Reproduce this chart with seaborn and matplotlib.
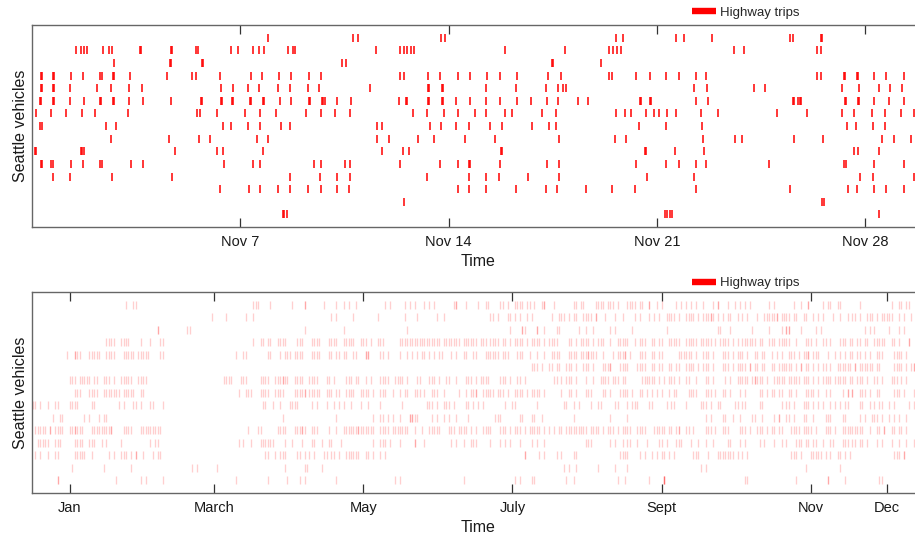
import matplotlib
matplotlib.use("Agg")
import matplotlib.pyplot as plt
from matplotlib.lines import Line2D
import pandas as pd
import seaborn as sns

# ---------------------------------------------------------------------------
# November: highway trip start times per vehicle, as fractional day of month
# (7.30 = Nov 7, about 07:12). One list per vehicle, top row first.
# ---------------------------------------------------------------------------
nov_trips = [
    [7.93, 10.80, 10.96, 13.75, 13.89, 19.63, 19.84, 21.63, 21.91, 22.84, 25.47, 25.58, 26.49, 26.53],
    [1.48, 1.64, 1.74, 1.85, 2.39, 2.60, 2.68, 3.63, 3.67, 4.68, 4.72, 5.51, 5.59, 6.69, 6.93, 7.43,
     7.61, 7.81, 8.60, 8.77, 8.85, 11.56, 12.37, 12.51, 12.60, 12.72, 12.84, 15.88, 17.91, 19.38,
     19.52, 19.66, 19.80, 23.59, 23.91, 26.37, 26.49],
    [2.76, 4.63, 4.67, 5.71, 5.75, 10.42, 10.55, 17.47, 17.51, 19.12],
    [0.31, 0.35, 0.71, 0.75, 1.30, 1.72, 2.30, 2.34, 2.73, 2.77, 3.30, 4.52, 5.39, 5.51, 6.31, 7.35,
     7.72, 8.30, 8.71, 9.31, 9.72, 12.37, 12.51, 13.29, 13.72, 14.31, 14.71, 15.30, 15.72, 16.30,
     17.34, 17.76, 19.38, 19.50, 20.30, 20.77, 21.30, 21.72, 22.30, 22.64, 26.37, 26.50, 27.27,
     27.31, 27.70, 27.74, 28.29, 28.70, 29.29],
    [0.31, 0.35, 0.69, 0.73, 1.27, 2.19, 2.64, 3.26, 3.68, 6.35, 6.76, 7.26, 7.64, 8.25, 8.67, 9.26,
     9.64, 11.34, 13.29, 13.33, 13.76, 13.80, 15.25, 16.27, 17.27, 17.68, 17.84, 17.93, 22.25,
     22.67, 24.25, 24.63, 27.21, 27.78, 28.45, 28.83, 29.24],
    [0.27, 0.31, 0.69, 0.73, 1.27, 1.76, 2.27, 2.31, 2.73, 2.77, 3.26, 3.73, 4.68, 5.68, 5.72, 6.34,
     6.38, 6.72, 6.76, 7.31, 7.35, 7.76, 7.80, 8.33, 8.71, 9.31, 9.35, 9.73, 9.78, 9.83, 10.26,
     10.72, 12.34, 12.56, 12.60, 13.29, 13.33, 13.76, 13.80, 14.25, 14.71, 15.25, 15.72, 16.30,
     16.76, 17.30, 17.67, 18.34, 18.68, 20.41, 20.45, 20.75, 20.79, 22.30, 22.70, 25.57, 25.61,
     25.74, 25.81, 25.85, 27.32, 27.36, 27.75, 27.79, 28.28, 28.78, 29.29],
    [0.14, 0.65, 1.15, 1.68, 2.13, 3.23, 5.55, 5.64, 6.23, 7.14, 7.67, 8.21, 9.22, 9.72, 10.18,
     10.68, 12.81, 13.26, 13.84, 14.30, 14.88, 15.25, 15.88, 16.13, 17.14, 17.59, 19.63, 19.92,
     20.13, 20.62, 20.88, 21.08, 21.34, 21.63, 22.47, 23.04, 25.03, 26.04, 27.21, 27.63, 28.21,
     28.66, 29.21, 29.63],
    [0.28, 0.32, 2.48, 2.82, 6.40, 6.69, 7.26, 7.67, 8.38, 8.67, 11.59, 11.76, 13.38, 13.75, 14.25,
     14.68, 15.40, 15.80, 16.80, 17.38, 17.59, 20.38, 21.30, 22.50, 27.37, 27.68, 28.25, 28.66],
    [2.64, 4.59, 5.60, 5.98, 7.56, 7.93, 11.59, 12.00, 12.97, 13.52, 14.55, 15.54, 17.71, 19.58,
     19.96, 22.54, 23.61, 23.85, 25.59, 26.57, 28.55, 28.95, 29.53],
    [0.10, 0.14, 1.64, 1.68, 1.75, 4.81, 6.22, 6.42, 7.76, 11.76, 12.46, 12.68, 15.76, 15.80, 20.60,
     20.64, 21.59, 22.59, 27.60, 27.74, 28.46],
    [0.31, 0.35, 0.65, 0.69, 1.30, 1.73, 2.30, 2.34, 3.31, 3.73, 6.46, 7.43, 7.67, 9.48, 9.72,
     10.52, 10.68, 12.37, 13.72, 14.30, 14.68, 14.72, 15.72, 17.30, 17.71, 20.30, 21.30, 21.72,
     22.30, 22.64, 24.75, 27.29, 27.33, 28.29, 29.29],
    [0.72, 1.27, 2.68, 4.72, 8.68, 9.68, 10.26, 10.68, 13.26, 14.68, 15.26, 15.68, 16.67, 17.71,
     20.67, 22.25, 27.83, 28.26, 29.63],
    [6.31, 7.30, 7.67, 8.27, 8.68, 9.26, 9.71, 10.26, 10.64, 14.30, 14.68, 15.26, 16.26, 17.27,
     17.63, 18.60, 19.50, 20.27, 22.30, 25.47, 27.42, 27.71, 28.29, 28.70, 29.29],
    [12.51, 26.54, 26.62],
    [8.44, 8.48, 8.57, 21.28, 21.32, 21.45, 21.49, 28.46],
]
nov_ticks = [7, 14, 21, 28]
nov_tick_labels = ["Nov 7", "Nov 14", "Nov 21", "Nov 28"]

# ---------------------------------------------------------------------------
# Whole year: day of year (0 = Jan 1) of each highway trip per vehicle.
# A day listed more than once had several trips.
# ---------------------------------------------------------------------------
year_trips = [
    [37, 40, 41, 89, 90, 91, 96, 105, 110, 110, 118, 123, 126, 128, 131, 143, 145, 151, 153, 155,
     159, 161, 163, 171, 172, 172, 176, 181, 184, 185, 190, 191, 193, 196, 197, 198, 199, 201, 202,
     204, 207, 208, 208, 212, 220, 221, 223, 224, 229, 230, 231, 232, 234, 235, 236, 238, 242, 243,
     244, 245, 247, 248, 251, 251, 254, 256, 262, 264, 266, 268, 270, 273, 277, 279, 279, 283, 286,
     288, 290, 292, 300, 302, 310, 313, 316, 316, 322, 324, 325, 328, 329, 337, 350, 353, 354, 356,
     357],
    [72, 78, 86, 89, 121, 123, 130, 140, 151, 156, 164, 167, 186, 187, 189, 193, 194, 196, 198, 201,
     203, 211, 214, 215, 216, 218, 220, 221, 224, 225, 226, 227, 229, 229, 233, 237, 240, 245, 247,
     251, 253, 255, 258, 259, 260, 261, 263, 266, 267, 268, 269, 271, 273, 274, 275, 276, 276, 277,
     279, 281, 283, 284, 287, 289, 291, 295, 298, 299, 300, 301, 302, 303, 303, 305, 306, 307, 308,
     310, 311, 314, 315, 318, 320, 322, 326, 329, 332, 334, 335, 337, 340, 341, 342, 344, 346, 347,
     348, 349, 350, 353, 355, 358],
    [50, 50, 62, 63, 110, 126, 152, 194, 199, 199, 200, 205, 205, 208, 213, 214, 222, 225, 228, 235,
     237, 244, 258, 279, 280, 284, 293, 300, 305, 307, 307, 308, 308, 313, 319, 321, 339, 341, 343,
     349, 353, 355],
    [29, 30, 31, 32, 35, 36, 37, 38, 43, 47, 51, 52, 89, 92, 93, 95, 96, 99, 100, 101, 102, 107, 108,
     109, 113, 114, 115, 116, 120, 121, 122, 123, 126, 127, 128, 129, 130, 133, 134, 135, 137, 140,
     141, 142, 149, 150, 151, 152, 153, 154, 155, 156, 157, 158, 159, 160, 161, 162, 163, 164, 165,
     167, 168, 169, 170, 171, 172, 173, 175, 176, 177, 178, 179, 180, 182, 183, 184, 186, 187, 188,
     189, 191, 192, 194, 196, 197, 198, 199, 201, 203, 204, 205, 206, 208, 210, 211, 212, 213, 218,
     219, 221, 223, 224, 225, 226, 228, 230, 231, 232, 235, 238, 239, 240, 241, 242, 245, 247, 248,
     249, 252, 253, 255, 256, 259, 260, 261, 262, 263, 266, 267, 268, 269, 270, 272, 273, 274, 275,
     276, 278, 280, 281, 282, 283, 285, 287, 289, 290, 291, 292, 293, 294, 296, 297, 300, 301, 302,
     304, 305, 306, 307, 308, 311, 315, 316, 317, 319, 322, 323, 325, 329, 330, 331, 333, 334, 336,
     337, 339, 340, 343, 344, 345, 346, 347, 350, 351, 353, 357, 357],
    [13, 16, 16, 17, 18, 22, 23, 24, 25, 26, 29, 30, 31, 32, 36, 37, 38, 39, 40, 42, 43, 44, 45, 46,
     51, 52, 82, 85, 86, 95, 96, 100, 102, 103, 104, 106, 107, 108, 109, 113, 114, 115, 116, 120,
     121, 123, 124, 126, 127, 130, 131, 135, 135, 136, 136, 141, 142, 144, 149, 152, 154, 156, 158,
     159, 161, 163, 165, 166, 170, 172, 175, 176, 179, 180, 184, 185, 186, 187, 188, 189, 191, 192,
     193, 197, 198, 199, 202, 205, 208, 211, 212, 213, 214, 218, 219, 220, 221, 223, 224, 225, 226,
     226, 227, 228, 229, 232, 236, 238, 239, 240, 241, 241, 243, 247, 248, 249, 252, 253, 255, 256,
     263, 264, 265, 266, 267, 268, 270, 273, 274, 275, 277, 281, 282, 283, 285, 287, 288, 289, 291,
     294, 295, 297, 298, 301, 303, 305, 308, 309, 310, 312, 314, 315, 316, 316, 318, 319, 320, 324,
     327, 329, 331, 333, 334, 336, 337, 339, 341, 344, 345, 346, 351, 352, 353, 354, 356],
    [203, 204, 205, 207, 210, 211, 213, 214, 217, 218, 219, 221, 224, 225, 226, 228, 232, 233, 234,
     235, 235, 239, 240, 241, 242, 246, 247, 248, 249, 252, 253, 255, 256, 259, 260, 262, 263, 266,
     267, 268, 269, 271, 273, 274, 275, 277, 281, 282, 283, 285, 287, 288, 289, 290, 292, 292, 294,
     295, 297, 298, 301, 302, 304, 305, 306, 307, 308, 309, 311, 313, 313, 315, 316, 318, 320, 322,
     323, 325, 328, 329, 330, 331, 332, 333, 335, 335, 337, 338, 339, 340, 341, 342, 344, 345, 351,
     352, 353, 354, 356, 358, 359, 359],
    [14, 15, 16, 18, 19, 20, 21, 22, 24, 25, 28, 29, 30, 32, 35, 36, 37, 38, 39, 42, 43, 44, 45, 77,
     78, 79, 80, 84, 85, 86, 92, 93, 94, 95, 98, 99, 100, 101, 101, 102, 103, 106, 107, 108, 109,
     112, 113, 114, 115, 119, 120, 122, 127, 128, 129, 131, 132, 135, 137, 141, 142, 143, 144, 147,
     148, 149, 150, 152, 156, 157, 161, 162, 163, 165, 168, 169, 172, 176, 177, 178, 180, 182, 183,
     184, 185, 190, 191, 192, 194, 197, 198, 200, 212, 213, 215, 217, 218, 219, 221, 225, 228, 231,
     232, 233, 234, 236, 237, 238, 240, 241, 248, 249, 250, 251, 252, 253, 255, 257, 259, 260, 261,
     263, 266, 267, 270, 274, 275, 277, 282, 284, 287, 288, 289, 290, 291, 293, 294, 294, 295, 296,
     297, 299, 302, 303, 304, 305, 306, 308, 309, 310, 311, 312, 314, 315, 316, 318, 320, 322, 323,
     324, 325, 327, 328, 329, 330, 331, 333, 334, 336, 337, 338, 340, 343, 344, 346, 350, 351, 352,
     354, 356],
    [16, 17, 18, 22, 23, 24, 25, 28, 29, 30, 31, 32, 33, 34, 36, 37, 38, 39, 40, 43, 44, 83, 86, 87,
     88, 92, 93, 94, 95, 98, 99, 100, 101, 106, 107, 108, 109, 110, 110, 112, 113, 114, 115, 116,
     119, 120, 121, 123, 124, 127, 128, 129, 130, 133, 134, 135, 136, 138, 141, 142, 143, 146, 149,
     151, 152, 155, 156, 157, 159, 162, 163, 164, 167, 173, 176, 178, 179, 180, 180, 183, 184, 185,
     186, 187, 189, 190, 191, 193, 196, 197, 198, 199, 201, 203, 204, 205, 206, 208, 215, 218, 219,
     221, 225, 226, 227, 232, 233, 235, 239, 240, 241, 242, 244, 247, 248, 250, 252, 254, 256, 259,
     261, 262, 267, 268, 269, 270, 274, 275, 276, 278, 281, 282, 284, 288, 290, 296, 297, 299, 301,
     302, 304, 305, 308, 309, 311, 315, 316, 317, 318, 320, 323, 325, 330, 332, 332, 334, 334, 337,
     338, 339, 341, 344, 345, 351, 352, 353, 355, 359],
    [-1, 0, 2, 5, 8, 9, 14, 15, 16, 17, 23, 24, 34, 36, 40, 41, 43, 47, 48, 52, 93, 94, 97, 100, 104,
     105, 106, 107, 113, 115, 119, 122, 124, 126, 129, 133, 136, 141, 150, 160, 161, 162, 164, 167,
     168, 169, 171, 176, 177, 179, 181, 183, 192, 195, 196, 205, 216, 217, 220, 222, 227, 230, 231,
     237, 238, 242, 244, 245, 246, 251, 252, 258, 260, 261, 266, 272, 273, 274, 276, 279, 280, 286,
     287, 289, 290, 296, 297, 305, 307, 308, 310, 314, 315, 316, 318, 320, 322, 325, 327, 329, 331,
     332, 337, 338, 341, 343, 345, 346, 349, 351, 357, 359],
    [7, 10, 11, 20, 22, 26, 28, 29, 101, 123, 138, 141, 142, 144, 146, 149, 153, 153, 154, 154, 155,
     156, 162, 164, 167, 169, 172, 177, 188, 189, 190, 198, 199, 203, 204, 207, 220, 235, 242, 274,
     276, 281, 282, 285, 288, 293, 294, 297, 302, 304, 304, 307, 308, 310, 314, 315, 318, 323, 324,
     325, 330, 331, 337, 339, 342, 343, 344, 346, 349, 351, 353, 356],
    [0, 1, 2, 3, 4, 6, 6, 8, 9, 10, 11, 14, 15, 16, 16, 17, 18, 19, 23, 24, 25, 26, 27, 28, 29, 30,
     31, 31, 36, 37, 38, 39, 43, 44, 45, 46, 47, 48, 49, 50, 51, 87, 91, 92, 99, 100, 101, 102, 106,
     107, 108, 109, 109, 110, 113, 114, 115, 120, 123, 126, 127, 128, 129, 130, 131, 132, 132, 133,
     134, 135, 136, 137, 138, 141, 142, 143, 144, 146, 147, 148, 149, 150, 151, 152, 155, 158, 161,
     162, 163, 164, 165, 169, 170, 171, 173, 174, 175, 176, 178, 180, 183, 184, 185, 186, 190, 191,
     192, 194, 196, 197, 198, 200, 202, 203, 204, 205, 206, 208, 210, 212, 214, 215, 217, 218, 219,
     220, 221, 222, 223, 224, 225, 227, 228, 229, 230, 232, 234, 235, 236, 238, 240, 241, 242, 243,
     246, 247, 248, 249, 253, 254, 255, 256, 257, 259, 260, 262, 263, 263, 266, 267, 269, 274, 275,
     276, 278, 281, 282, 283, 288, 289, 290, 292, 295, 296, 297, 299, 301, 302, 304, 305, 309, 310,
     311, 312, 314, 315, 316, 317, 319, 323, 324, 325, 327, 330, 331, 332, 333, 334, 335, 336, 337,
     338, 341, 344, 345, 347, 347, 350, 351, 353, 354, 356],
    [1, 2, 3, 4, 5, 8, 9, 10, 16, 17, 18, 19, 22, 23, 24, 27, 29, 35, 47, 49, 50, 83, 85, 88, 92, 93,
     94, 95, 96, 97, 102, 105, 109, 113, 114, 117, 120, 121, 125, 138, 141, 142, 143, 145, 149, 155,
     155, 159, 170, 172, 175, 178, 179, 180, 186, 190, 192, 194, 198, 203, 205, 208, 225, 226, 227,
     235, 237, 240, 242, 243, 246, 250, 255, 256, 258, 262, 263, 264, 268, 271, 274, 277, 283, 284,
     288, 290, 296, 298, 302, 305, 307, 311, 312, 313, 315, 316, 318, 319, 322, 325, 326, 330, 331,
     332, 334, 335, 337, 338, 340, 344, 346, 350, 353, 356, 359],
    [0, 2, 5, 8, 9, 16, 17, 18, 19, 20, 23, 30, 32, 35, 36, 37, 39, 41, 41, 44, 48, 50, 51, 94, 95,
     98, 100, 101, 102, 107, 108, 110, 112, 114, 118, 119, 121, 122, 124, 127, 128, 129, 130, 131,
     132, 135, 136, 138, 141, 143, 200, 200, 206, 208, 213, 215, 220, 221, 239, 240, 241, 242, 247,
     249, 252, 254, 256, 257, 259, 261, 269, 270, 271, 275, 279, 280, 281, 282, 283, 284, 285, 287,
     289, 291, 309, 310, 311, 313, 317, 318, 319, 320, 321, 323, 325, 328, 329, 331, 333, 351, 352,
     353, 355, 355],
    [15, 28, 39, 64, 66, 74, 102, 110, 111, 117, 216, 218, 221, 230, 237, 242, 272, 274, 315, 329],
    [9, 9, 33, 43, 45, 52, 82, 95, 103, 108, 110, 123, 147, 149, 175, 196, 198, 203, 204, 217, 220,
     238, 241, 251, 257, 257, 257, 257, 290, 291, 311, 324, 324, 331, 345, 346],
]
year_ticks = [14, 73, 134, 195, 256, 317, 348]
year_tick_labels = ["Jan", "March", "May", "July", "Sept", "Nov", "Dec"]

legend_label = "Highway trips"


def trips_frame(rows):
    records = [(t, vehicle) for vehicle, row in enumerate(rows, start=1) for t in row]
    return pd.DataFrame(records, columns=["time", "vehicle"])


nov_df = trips_frame(nov_trips)
year_df = trips_frame(year_trips)

sns.set_theme(style="white")
plt.rcParams["font.family"] = ["Liberation Sans", "DejaVu Sans"]

W, H = 915, 537
fig = plt.figure(figsize=(W / 100, H / 100), dpi=100)
ax_nov = fig.add_axes([32 / W, 1 - 227 / H, 893 / W, 202 / H])
ax_year = fig.add_axes([32 / W, 1 - 493 / H, 893 / W, 201 / H])

# Each trip is a short vertical tick in its vehicle's row
sns.scatterplot(data=nov_df, x="time", y="vehicle", marker="|", s=27, linewidth=1.1,
                color="#ff0000", ax=ax_nov, legend=False)
sns.scatterplot(data=year_df, x="time", y="vehicle", marker="|", s=27, linewidth=0.95,
                color="#ff0000", alpha=0.19, ax=ax_year, legend=False)

ax_nov.set_xlim(0, 30)
ax_nov.set_xticks(nov_ticks)
ax_nov.set_xticklabels(nov_tick_labels)

ax_year.set_xlim(-1.43, 363.65)
ax_year.set_xticks(year_ticks)
ax_year.set_xticklabels(year_tick_labels)

text_color = "#1a1a1a"
for ax, leg_y in ((ax_nov, 1 - 13 / H), (ax_year, 1 - 283 / H)):
    ax.set_ylim(16, 0)
    ax.set_yticks([])
    ax.set_ylabel("Seattle vehicles", fontsize=11.5, color=text_color)
    ax.yaxis.set_label_coords(-0.005, 0.5)
    ax.set_xlabel("Time", fontsize=11.5, color=text_color, labelpad=3)
    ax.tick_params(axis="x", direction="in", length=6.5, width=0.9, color="#333333",
                   top=True, bottom=True, labelsize=10.5, labelcolor=text_color, pad=6)
    for spine in ax.spines.values():
        spine.set_color("#666666")
        spine.set_linewidth(1.0)
    handle = Line2D([], [], color="#ff0000", lw=4.6, solid_capstyle="butt")
    ax.legend([handle], [legend_label], loc="center left", bbox_to_anchor=(692 / W, leg_y),
              bbox_transform=fig.transFigure, frameon=False, fontsize=9.5,
              handlelength=1.85, handletextpad=0.25, borderpad=0, borderaxespad=0)

fig.savefig("out.png", dpi=100)
